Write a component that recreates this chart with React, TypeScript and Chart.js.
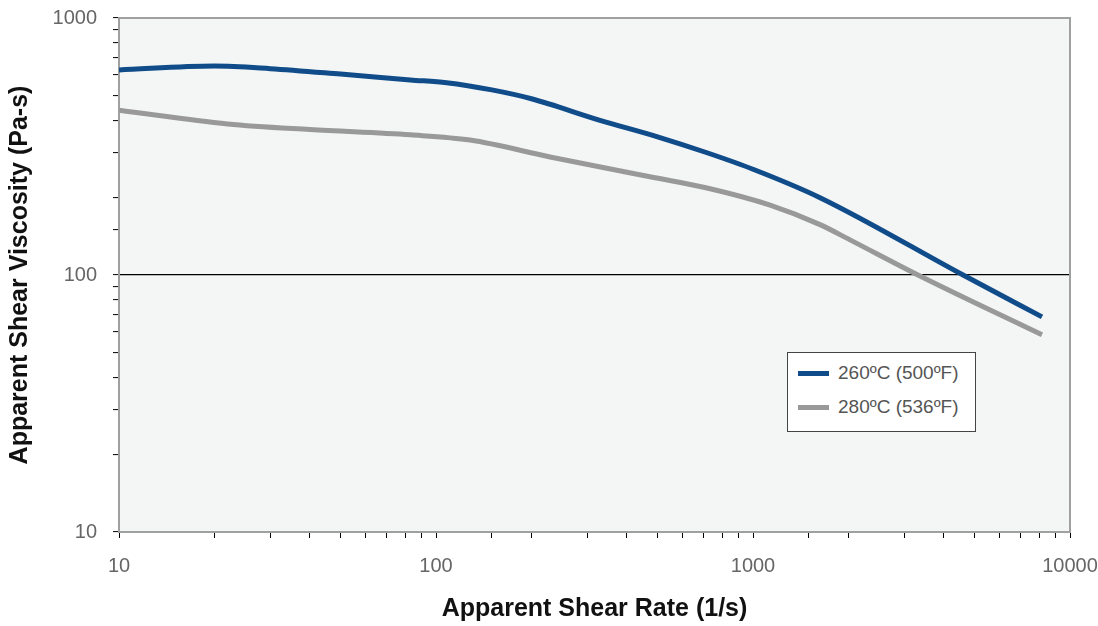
import React, { useEffect, useRef } from "react";
import { Chart, registerables } from "chart.js";

Chart.register(...registerables);

const seriesLabels = ["260ºC (500ºF)", "280ºC (536ºF)"];
const seriesColors = ["#0f4c89", "#999999"];

const rate260 = [10, 20, 30, 50, 83, 108, 150, 200, 329, 500, 716, 1000, 1627, 4600, 8160];
const visc260 = [628, 650, 635, 605, 574, 560, 525, 485, 400, 345, 299, 258, 200, 100, 68.7];

const rate280 = [10, 22, 40, 83, 128, 229, 473, 716, 1132, 1627, 2023, 3314, 8160];
const visc280 = [438, 387, 368, 351, 335, 288, 241, 218, 187, 157, 137, 100, 58.5];

const xLabelTicks = [10, 100, 1000, 10000];
const yLabelTicks = [10, 100, 1000];

const FONT = "'Liberation Sans', Arial, sans-serif";

const areaPlugin = {
  id: "areaPlugin",
  beforeDraw(chart: any) {
    const { ctx, chartArea } = chart;
    ctx.save();
    ctx.fillStyle = "#f4f5f5";
    ctx.fillRect(chartArea.left, chartArea.top, chartArea.right - chartArea.left, chartArea.bottom - chartArea.top);
    ctx.restore();
  },
  afterDraw(chart: any) {
    const { ctx, chartArea } = chart;
    ctx.save();
    ctx.strokeStyle = "#a0a0a0";
    ctx.lineWidth = 2;
    ctx.beginPath();
    ctx.moveTo(chartArea.left, chartArea.top);
    ctx.lineTo(chartArea.right, chartArea.top);
    ctx.lineTo(chartArea.right, chartArea.bottom);
    ctx.stroke();
    ctx.restore();
  },
};

export default function App() {
  const ref = useRef<HTMLCanvasElement | null>(null);

  useEffect(() => {
    if (!ref.current) return;
    const chart = new Chart(ref.current, {
      type: "line",
      data: {
        datasets: [
          {
            label: seriesLabels[0],
            data: rate260.map((x, i) => ({ x, y: visc260[i] })),
            borderColor: seriesColors[0],
            borderWidth: 5,
            pointRadius: 0,
            cubicInterpolationMode: "monotone",
            fill: false,
          },
          {
            label: seriesLabels[1],
            data: rate280.map((x, i) => ({ x, y: visc280[i] })),
            borderColor: seriesColors[1],
            borderWidth: 5,
            pointRadius: 0,
            cubicInterpolationMode: "monotone",
            fill: false,
          },
        ],
      },
      options: {
        animation: false,
        responsive: false,
        maintainAspectRatio: false,
        layout: { padding: { top: 18, right: 28, left: 0, bottom: 0 } },
        plugins: {
          legend: { display: false },
          tooltip: { enabled: false },
        },
        scales: {
          x: {
            type: "logarithmic",
            min: 10,
            max: 10000,
            afterFit: (s: any) => {
              s.height = 94;
              s.paddingLeft = 0;
              s.paddingRight = 0;
            },
            border: { color: "#a0a0a0", width: 2 },
            grid: {
              drawOnChartArea: false,
              tickColor: "#000",
              tickLength: 6,
              tickWidth: 1,
            },
            ticks: {
              autoSkip: false,
              maxRotation: 0,
              padding: 16,
              color: "#666",
              font: { family: FONT, size: 20 },
              callback: (v: any) => (xLabelTicks.includes(Number(v)) ? String(v) : ""),
            },
            title: {
              display: true,
              text: "Apparent Shear Rate (1/s)",
              color: "#111",
              font: { family: FONT, size: 25, weight: "bold" },
              padding: { top: 0, bottom: 2 },
            },
          },
          y: {
            type: "logarithmic",
            min: 10,
            max: 1000,
            afterFit: (s: any) => {
              s.width = 119;
              s.paddingTop = 0;
              s.paddingBottom = 0;
            },
            border: { color: "#a0a0a0", width: 2 },
            grid: {
              color: (c: any) => (c.tick && c.tick.value === 100 ? "#000" : "rgba(0,0,0,0)"),
              lineWidth: 1.2,
              tickColor: "#000",
              tickLength: 6,
              tickWidth: 1,
            },
            ticks: {
              autoSkip: false,
              padding: 16,
              color: "#666",
              font: { family: FONT, size: 20 },
              callback: (v: any) => (yLabelTicks.includes(Number(v)) ? String(v) : ""),
            },
            title: {
              display: true,
              text: "Apparent Shear Viscosity (Pa-s)",
              color: "#111",
              font: { family: FONT, size: 25, weight: "bold" },
              padding: { top: 5, bottom: 0 },
            },
          },
        },
      },
      plugins: [areaPlugin],
    } as any);
    return () => chart.destroy();
  }, []);

  return (
    <div style={{ position: "fixed", left: 0, top: 0, width: 1098, height: 626, background: "#fff" }}>
      <canvas ref={ref} width={1098} height={626} style={{ width: 1098, height: 626, display: "block" }} />
      <div
        style={{
          position: "absolute",
          left: 787,
          top: 352,
          width: 189,
          height: 80,
          background: "#fff",
          border: "1px solid #444",
          fontFamily: FONT,
          fontSize: 19,
          color: "#555",
          boxSizing: "border-box",
          paddingTop: 3,
        }}
      >
        {seriesLabels.map((l, i) => (
          <div key={l} style={{ display: "flex", alignItems: "center", height: 34, paddingLeft: 10 }}>
            <span style={{ display: "inline-block", width: 31, height: 5, background: seriesColors[i], marginRight: 9 }} />
            <span>{l}</span>
          </div>
        ))}
      </div>
    </div>
  );
}
